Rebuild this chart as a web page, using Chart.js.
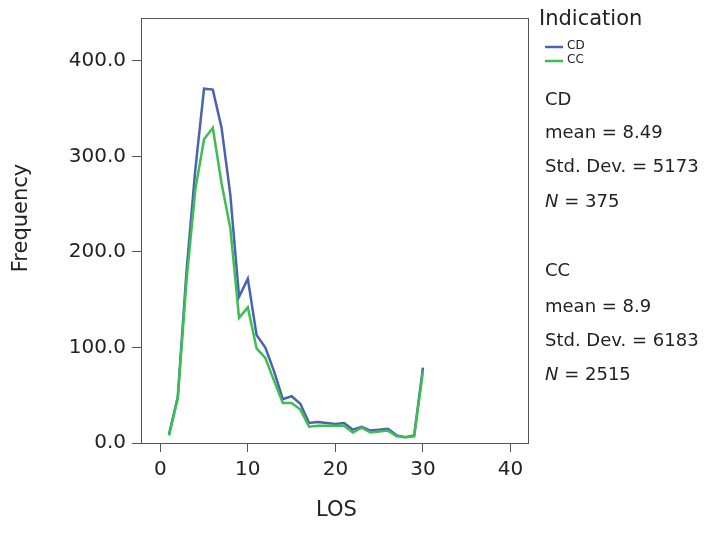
<!DOCTYPE html>
<html lang="en">
<head>
<meta charset="UTF-8">
<title>LOS frequency</title>
<script src="https://cdn.jsdelivr.net/npm/chart.js"></script>
<style>
  body { margin: 0; background: #fff; }
  #wrap { width: 717px; height: 535px; }
</style>
</head>
<body>
<div id="wrap"><canvas id="chart" width="717" height="535"></canvas></div>
<script>
const losValues = [1,2,3,4,5,6,7,8,9,10,11,12,13,14,15,16,17,18,19,20,21,22,23,24,25,26,27,28,29,30];
const cdFreq = [9,48,180,286,371,370,330,260,153,172,113,100,75,46,49,41,21,22,21,20,21,14,17,13,14,15,8,6,8,79];
const ccFreq = [8,47,170,265,318,330,272,225,131,142,99,89,65,42,42,35,17,18,18,18,18,11,16,11,12,13,7,6,7,75];
const xTicks = [0,10,20,30,40];
const yTicks = [0,100,200,300,400];
const statLines = [
  ['CD', 100], ['mean = 8.49', 133], ['Std. Dev. = 5173', 167], ['N = 375', 202],
  ['CC', 271], ['mean = 8.9', 307], ['Std. Dev. = 6183', 341], ['N = 2515', 375]
];

const FONT = 'DejaVu Sans';
const blue = '#4a62b4';
const green = '#3cbf4f';

const sidePanel = {
  id: 'sidePanel',
  afterDraw(chart) {
    const ctx = chart.ctx;
    const a = chart.chartArea;
    ctx.save();
    // frame
    ctx.strokeStyle = '#555';
    ctx.lineWidth = 1;
    ctx.strokeRect(a.left + 0.5, a.top + 0.5, a.right - a.left, a.bottom - a.top);
    ctx.fillStyle = '#222';
    ctx.textBaseline = 'middle';
    // axis titles
    ctx.font = '21px "' + FONT + '"';
    ctx.textAlign = 'center';
    ctx.fillText('LOS', (a.left + a.right) / 2 + 2, 511);
    ctx.save();
    ctx.translate(22, 218);
    ctx.rotate(-Math.PI / 2);
    ctx.fillText('Frequency', 0, 0);
    ctx.restore();
    ctx.textAlign = 'left';
    // legend
    ctx.font = '21px "' + FONT + '"';
    ctx.fillText('Indication', 539, 20);
    ctx.font = '12px "' + FONT + '"';
    [[blue, 'CD', 47], [green, 'CC', 61]].forEach(([c, t, y]) => {
      ctx.strokeStyle = c;
      ctx.lineWidth = 2.5;
      ctx.beginPath();
      ctx.moveTo(545, y);
      ctx.lineTo(563, y);
      ctx.stroke();
      ctx.fillText(t, 567, y - 1);
    });
    // stats
    statLines.forEach(([t, y]) => {
      ctx.font = '18px "' + FONT + '"';
      if (t.startsWith('N =')) {
        ctx.font = 'italic 18px "' + FONT + '"';
        ctx.fillText('N', 545, y);
        const w = ctx.measureText('N').width;
        ctx.font = '18px "' + FONT + '"';
        ctx.fillText(t.slice(1), 545 + w, y);
      } else {
        ctx.fillText(t, 545, y);
      }
    });
    ctx.restore();
  }
};

new Chart(document.getElementById('chart'), {
  type: 'line',
  data: {
    datasets: [
      { label: 'CD', data: losValues.map((x, i) => ({ x, y: cdFreq[i] })), borderColor: blue, borderWidth: 2.5, order: 1 },
      { label: 'CC', data: losValues.map((x, i) => ({ x, y: ccFreq[i] })), borderColor: green, borderWidth: 2.5, order: 0 }
    ]
  },
  options: {
    responsive: false,
    animation: false,
    layout: { padding: { top: 18, right: 189, left: 0, bottom: 0 } },
    elements: { point: { radius: 0 }, line: { tension: 0 } },
    plugins: { legend: { display: false }, tooltip: { enabled: false } },
    scales: {
      x: {
        type: 'linear',
        min: -2.2,
        max: 42,
        afterBuildTicks: s => { s.ticks = xTicks.map(v => ({ value: v })); },
        afterFit: s => { s.height = 92; },
        grid: { drawOnChartArea: false, tickLength: 9, color: '#555' },
        border: { display: false },
        ticks: { color: '#222', font: { family: FONT, size: 20 }, padding: 6 }
      },
      y: {
        min: 0,
        max: 445,
        afterBuildTicks: s => { s.ticks = yTicks.map(v => ({ value: v })); },
        afterFit: s => { s.width = 141; },
        grid: { drawOnChartArea: false, tickLength: 9, color: '#555' },
        border: { display: false },
        ticks: { color: '#222', font: { family: FONT, size: 20 }, padding: 6, callback: v => v.toFixed(1) }
      }
    }
  },
  plugins: [sidePanel]
});
</script>
</body>
</html>
